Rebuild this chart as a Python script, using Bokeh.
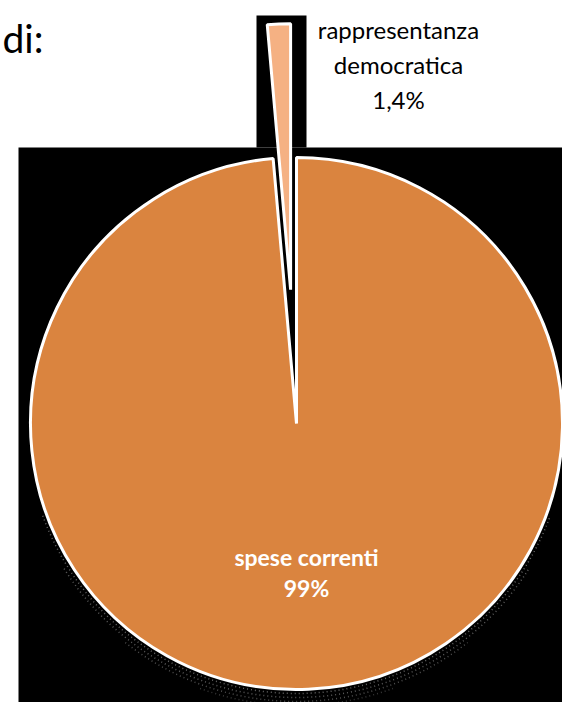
import math
import numpy as np
from bokeh.plotting import figure
from bokeh.models import Range1d, ColumnDataSource
from bokeh.core.properties import value
from bokeh.embed import file_html
from bokeh.resources import INLINE

# ---- data ----
categories = ["rappresentanza democratica", "spese correnti"]
values = [1.4, 98.6]
label_texts = ["rappresentanza\ndemocratica\n1,4%", "spese correnti\n99%"]
title_text = "di:"

# ---- layout constants (reference pixel space, y measured from top) ----
W, H = 562, 702
cx, cy_pix, R = 296, 423, 266
explode = [134, 0]

def Y(ypix):
    return H - ypix

p = figure(width=W, height=H, x_range=Range1d(0, W), y_range=Range1d(0, H),
           output_backend="svg", toolbar_location=None, min_border=0,
           background_fill_color="white", border_fill_color="white")
p.axis.visible = False
p.grid.visible = False
p.outline_line_color = None

# black backdrop
p.quad(left=[18, 256], right=[562, 306], bottom=[Y(702), Y(147)], top=[Y(147), Y(15)],
       fill_color="black", line_color=None)

# angles from values
vals = np.array(values, dtype=float)
frac = vals / vals.sum()
starts = math.pi / 2 + 2 * math.pi * np.concatenate([[0], np.cumsum(frac)[:-1]])
ends = math.pi / 2 + 2 * math.pi * np.cumsum(frac)
mids = (starts + ends) / 2
xs = [cx + explode[i] * math.cos(mids[i]) for i in range(len(vals))]
ys = [Y(cy_pix) + explode[i] * math.sin(mids[i]) for i in range(len(vals))]
colors = ["#F5B183", "#DA843F"]

# faint dotted shadow below the pie
for dr, a0, a1, al in [(4, 200, 340, 0.9), (8, 212, 328, 0.8), (12, 232, 308, 0.7), (16, 250, 290, 0.5)]:
    p.arc(x=cx, y=Y(cy_pix), radius=R + dr, start_angle=math.radians(a0), end_angle=math.radians(a1),
          line_color="#707070", line_dash="1 3", line_width=1.5, line_alpha=al)

src = ColumnDataSource(dict(x=xs, y=ys, start=list(starts), end=list(ends), color=colors, cat=categories))
p.wedge(x="x", y="y", radius=R, start_angle="start", end_angle="end", direction="anticlock",
        fill_color="color", line_color="white", line_width=3, source=src)

# labels
lab1 = label_texts[0].split("\n")
for i, t in enumerate(lab1):
    p.text(x=[398], y=[Y(29 + 35 * i)], text=[t], text_align="center", text_baseline="alphabetic",
           text_font=value("Lato"), text_font_size="24px", text_color="black")
lab2 = label_texts[1].split("\n")
for i, t in enumerate(lab2):
    p.text(x=[306], y=[Y(556 + 31 * i)], text=[t], text_align="center", text_baseline="alphabetic",
           text_font=value("Lato"), text_font_size="23px", text_font_style="bold", text_color="white")

p.text(x=[2], y=[Y(37)], text=[title_text], text_align="left", text_baseline="alphabetic",
       text_font=value("Lato"), text_font_size="39px", text_color="black")

open("out.html", "w").write(file_html(p, INLINE))
